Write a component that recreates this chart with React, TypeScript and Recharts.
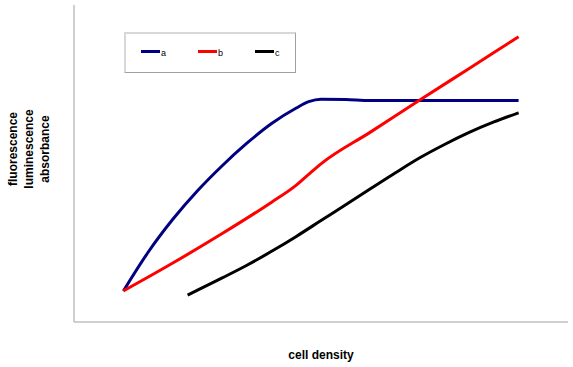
import { LineChart, Line, XAxis, YAxis, Legend, Label } from "recharts";

// cell density (arbitrary units) vs signal (arbitrary units)
const aX = [1, 1.5, 2, 2.5, 3, 3.5, 4, 4.5, 4.75, 5, 5.5, 6, 9];
const aY = [9.8, 22, 32.4, 41.4, 49.3, 56.4, 62.6, 67.5, 69.5, 70.3, 70.2, 69.9, 69.9];

const bX = [1, 2, 3, 4, 4.5, 4.75, 5, 6, 7, 8, 9];
const bY = [9.8, 18.6, 27.9, 37.8, 43.2, 46.6, 49.9, 59.9, 70, 80, 90];

const cX = [2.3, 3, 3.5, 4, 4.5, 5, 5.5, 6, 6.5, 7, 7.5, 8, 8.5, 9];
const cY = [8.5, 13.9, 17.9, 22.3, 27, 32, 37, 42, 47, 51.8, 56, 59.8, 63.1, 66];

const seriesNames = ["a", "b", "c"];
const seriesColors = ["#000080", "#ff0000", "#000000"];
const yLabelLines = ["fluorescence", "luminescence", "absorbance"];

const toRows = (xs: number[], ys: number[]) =>
	xs.map((x, i) => ({ x, y: ys[i] }));

const seriesData = [toRows(aX, aY), toRows(bX, bY), toRows(cX, cY)];

const FONT = "'Liberation Sans', Arial, sans-serif";

const LegendBox = () => (
	<div
		style={{
			position: "relative",
			width: 172,
			height: 41,
			background: "#fff",
			borderTop: "2px solid #d8d8d8",
			borderLeft: "2px solid #d8d8d8",
			borderRight: "1px solid #a0a0a0",
			borderBottom: "1px solid #a0a0a0",
			boxSizing: "border-box",
			fontFamily: FONT,
		}}>
		{seriesNames.map((name, i) => (
			<div
				key={name}
				style={{
					position: "absolute",
					left: 15 + i * 57,
					top: 11,
					display: "flex",
					alignItems: "center",
					height: 12,
				}}>
				<div
					style={{ width: 19, height: 3, background: seriesColors[i] }}
				/>
				<span style={{ fontSize: 9, marginLeft: 1, marginTop: 3, color: "#000" }}>
					{name}
				</span>
			</div>
		))}
	</div>
);

const YTitle = () => (
	<g>
		{yLabelLines.map((t, i) => {
			const x = 13 + i * 16;
			const y = 149;
			return (
				<text
					key={t}
					x={x}
					y={y}
					transform={`rotate(-90 ${x} ${y})`}
					textAnchor="middle"
					dominantBaseline="central"
					fontFamily={FONT}
					fontWeight="bold"
					fontSize={12}
					fill="#000">
					{t}
				</text>
			);
		})}
	</g>
);

export default function App() {
	return (
		<div style={{ width: 573, height: 367, background: "#fff" }}>
			<style>{"body{margin:0}"}</style>
			<LineChart
				width={573}
				height={367}
				margin={{ top: 5, right: 5, bottom: 44, left: 73 }}>
				<XAxis
					type="number"
					dataKey="x"
					domain={[0, 10]}
					height={1}
					tick={false}
					tickLine={false}
					axisLine={{ stroke: "#a0a0a0", strokeWidth: 1 }}>
					<Label
						value="cell density"
						position="bottom"
						offset={27}
						style={{
							fontFamily: FONT,
							fontWeight: "bold",
							fontSize: 12,
							fill: "#000",
						}}
					/>
				</XAxis>
				<YAxis
					type="number"
					dataKey="y"
					domain={[0, 100]}
					width={1}
					tick={false}
					tickLine={false}
					axisLine={{ stroke: "#a0a0a0", strokeWidth: 1 }}>
					<Label content={() => <YTitle />} />
				</YAxis>
				<Legend
					layout="horizontal"
					verticalAlign="middle"
					align="center"
					content={() => <LegendBox />}
					wrapperStyle={{ left: 124, top: 32, width: 172, height: 41 }}
				/>
				{seriesData.map((rows, i) => (
					<Line
						key={seriesNames[i]}
						data={rows}
						dataKey="y"
						name={seriesNames[i]}
						type="monotone"
						stroke={seriesColors[i]}
						strokeWidth={3}
						dot={false}
						activeDot={false}
						isAnimationActive={false}
					/>
				))}
			</LineChart>
		</div>
	);
}
